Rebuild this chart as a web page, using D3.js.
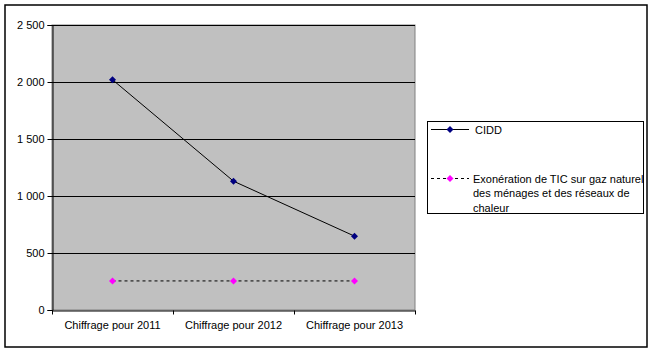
<!DOCTYPE html>
<html><head><meta charset="utf-8">
<script src="https://cdn.jsdelivr.net/npm/d3@7"></script>
<style>body{margin:0;background:#fff}svg{display:block;font-family:Arial,"Liberation Sans",sans-serif}</style>
</head><body><svg id="c" width="652" height="352"></svg>
<script>
const categories = ["Chiffrage pour 2011","Chiffrage pour 2012","Chiffrage pour 2013"];
const cidd = [2020, 1130, 648];
const exoneration = [255, 255, 255];
const yTicks = [0,500,1000,1500,2000,2500];
const seriesNames = ["CIDD", ["Exonération de TIC sur gaz naturel","des ménages et des réseaux de","chaleur"]];

const svg = d3.select("#c");
svg.append("rect").attr("x",5).attr("y",5).attr("width",642).attr("height",342)
  .attr("fill","#fff").attr("stroke","#000").attr("stroke-width",1.5);

const L=52,R=415,T=25,B=310;
const x = d3.scaleBand().domain(categories).range([L,R]);
const y = d3.scaleLinear().domain([0,2500]).range([B,T]);
const fmt = v => d3.format(",")(v).replace(/,/g," ");

svg.append("rect").attr("x",L).attr("y",T).attr("width",R-L).attr("height",B-T)
  .attr("fill","#C0C0C0").attr("stroke","#808080").attr("stroke-width",1);

svg.append("g").selectAll("line").data(yTicks.filter(d=>d>0)).join("line")
  .attr("x1",L).attr("x2",R).attr("y1",d=>Math.round(y(d))+0.5).attr("y2",d=>Math.round(y(d))+0.5)
  .attr("stroke","#000");

const yAxis = svg.append("g").attr("transform",`translate(${L+0.5},0)`)
  .call(d3.axisLeft(y).tickValues(yTicks).tickFormat(fmt).tickSize(5).tickPadding(3));
const xAxis = svg.append("g").attr("transform",`translate(0,${B+0.5})`)
  .call(d3.axisBottom(x).tickSize(0).tickPadding(11));
[yAxis,xAxis].forEach(g=>{g.selectAll("path").attr("stroke","#000");g.selectAll("text").attr("font-size",11).attr("font-family","Arial, 'Liberation Sans', sans-serif").attr("fill","#000");});
xAxis.append("g").selectAll("line").data(d3.range(categories.length+1)).join("line")
  .attr("x1",i=>Math.round(L+i*x.step())+0.5).attr("x2",i=>Math.round(L+i*x.step())+0.5)
  .attr("y1",0).attr("y2",4).attr("stroke","#000");

const cx = d => x(d)+x.bandwidth()/2;
const line = d3.line().x(d=>cx(d[0])).y(d=>y(d[1]));
const diamond = (g, px, py, col) => g.append("path")
  .attr("d",`M${px},${py-3.5}L${px+3.5},${py}L${px},${py+3.5}L${px-3.5},${py}Z`).attr("fill",col);

const s1 = categories.map((c,i)=>[c,cidd[i]]);
const s2 = categories.map((c,i)=>[c,exoneration[i]]);
svg.append("path").attr("d",line(s2)).attr("fill","none").attr("stroke","#000").attr("stroke-dasharray","3,3");
svg.append("path").attr("d",line(s1)).attr("fill","none").attr("stroke","#000");
const mk = svg.append("g");
s1.forEach(d=>diamond(mk,cx(d[0]),y(d[1]),"#000080"));
s2.forEach(d=>diamond(mk,cx(d[0]),y(d[1]),"#FF00FF"));

// legend
const lg = svg.append("g");
lg.append("rect").attr("x",427.5).attr("y",121.5).attr("width",216).attr("height",92).attr("fill","#fff").attr("stroke","#000");
lg.append("line").attr("x1",431).attr("x2",469).attr("y1",129.5).attr("y2",129.5).attr("stroke","#000");
diamond(lg,450,129.5,"#000080");
lg.append("text").attr("x",475).attr("y",133.5).attr("font-size",11).text(seriesNames[0]);
lg.append("line").attr("x1",431).attr("x2",469).attr("y1",178.5).attr("y2",178.5).attr("stroke","#000").attr("stroke-dasharray","3,3");
diamond(lg,450,178.5,"#FF00FF");
const t = lg.append("text").attr("font-size",11);
seriesNames[1].forEach((s,i)=>t.append("tspan").attr("x",473).attr("y",182.5+i*14.5).text(s));
</script></body></html>
